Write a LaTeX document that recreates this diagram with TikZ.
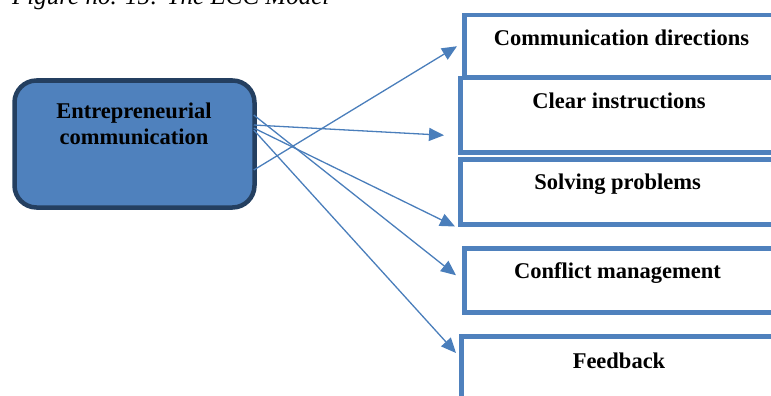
\documentclass[tikz,border=0pt]{standalone}
\usepackage{fontspec}
\setmainfont{Liberation Serif}
\usepackage{tikz}
\usetikzlibrary{arrows.meta}
\definecolor{boxblue}{HTML}{4F81BD}
\definecolor{arrblue}{HTML}{4A7EBB}
\definecolor{darkrim}{HTML}{243F60}

\begin{document}
\begin{tikzpicture}[x=1pt,y=-1pt,
  outbox/.style={draw=boxblue,line width=4.5pt,rectangle,anchor=north west,minimum width=360pt,inner sep=0pt},
  lbl/.style={font=\fontsize{22.5}{26}\selectfont\bfseries,inner sep=0pt},
  arr/.style={draw=arrblue,line width=1.3pt,-{Triangle[length=15pt,width=13pt]}}]
\clip (0,0) rectangle (771,396);
% caption, cut at the top
\node[font=\fontsize{25}{30}\selectfont\itshape,inner sep=0pt,anchor=base west] (capt) at (12,5) {Figure no. 15: The ECC Model};
% left box
\node[draw=darkrim,fill=boxblue,line width=4.5pt,rounded corners=22pt,minimum width=240pt,minimum height=127pt,inner sep=0pt] (ecc) at (134.5,144) {};
\node[lbl,align=center] (ecctext) at (134,123.4) {Entrepreneurial\\communication};
% right boxes
\node[outbox,minimum height=62pt] (dir) at (462,13) {};
\node[outbox,minimum height=74pt] (clear) at (458,76) {};
\node[outbox,minimum height=65pt] (solve) at (458,157) {};
\node[outbox,minimum height=64pt] (confl) at (462,246) {};
\node[outbox,minimum height=100pt] (feed) at (459,334) {};
\node[lbl,anchor=base] (dirtext) at (621.5,46) {Communication directions};
\node[lbl,anchor=base] (cleartext) at (619,108) {Clear instructions};
\node[lbl,anchor=base] (solvetext) at (617.5,189) {Solving problems};
\node[lbl,anchor=base] (confltext) at (617.5,278) {Conflict management};
\node[lbl,anchor=base] (feedtext) at (619,368) {Feedback};
% arrows
\draw[arr] ([xshift=-3pt,yshift=-26pt]ecc.east) -- ([xshift=-5pt]dir.west);
\draw[arr] ([xshift=-3pt,yshift=19pt]ecc.east) -- ([xshift=-14pt,yshift=-20pt]clear.west);
\draw[arr] ([xshift=-3pt,yshift=16pt]ecc.east) -- ([xshift=-3pt]solve.south west);
\draw[arr] ([xshift=-3pt,yshift=29pt]ecc.east) -- ([xshift=-6pt,yshift=5pt]confl.west);
\draw[arr] ([xshift=-3pt,yshift=14pt]ecc.east) -- ([xshift=-3pt,yshift=-19pt]feed.north west);
\end{tikzpicture}
\end{document}
